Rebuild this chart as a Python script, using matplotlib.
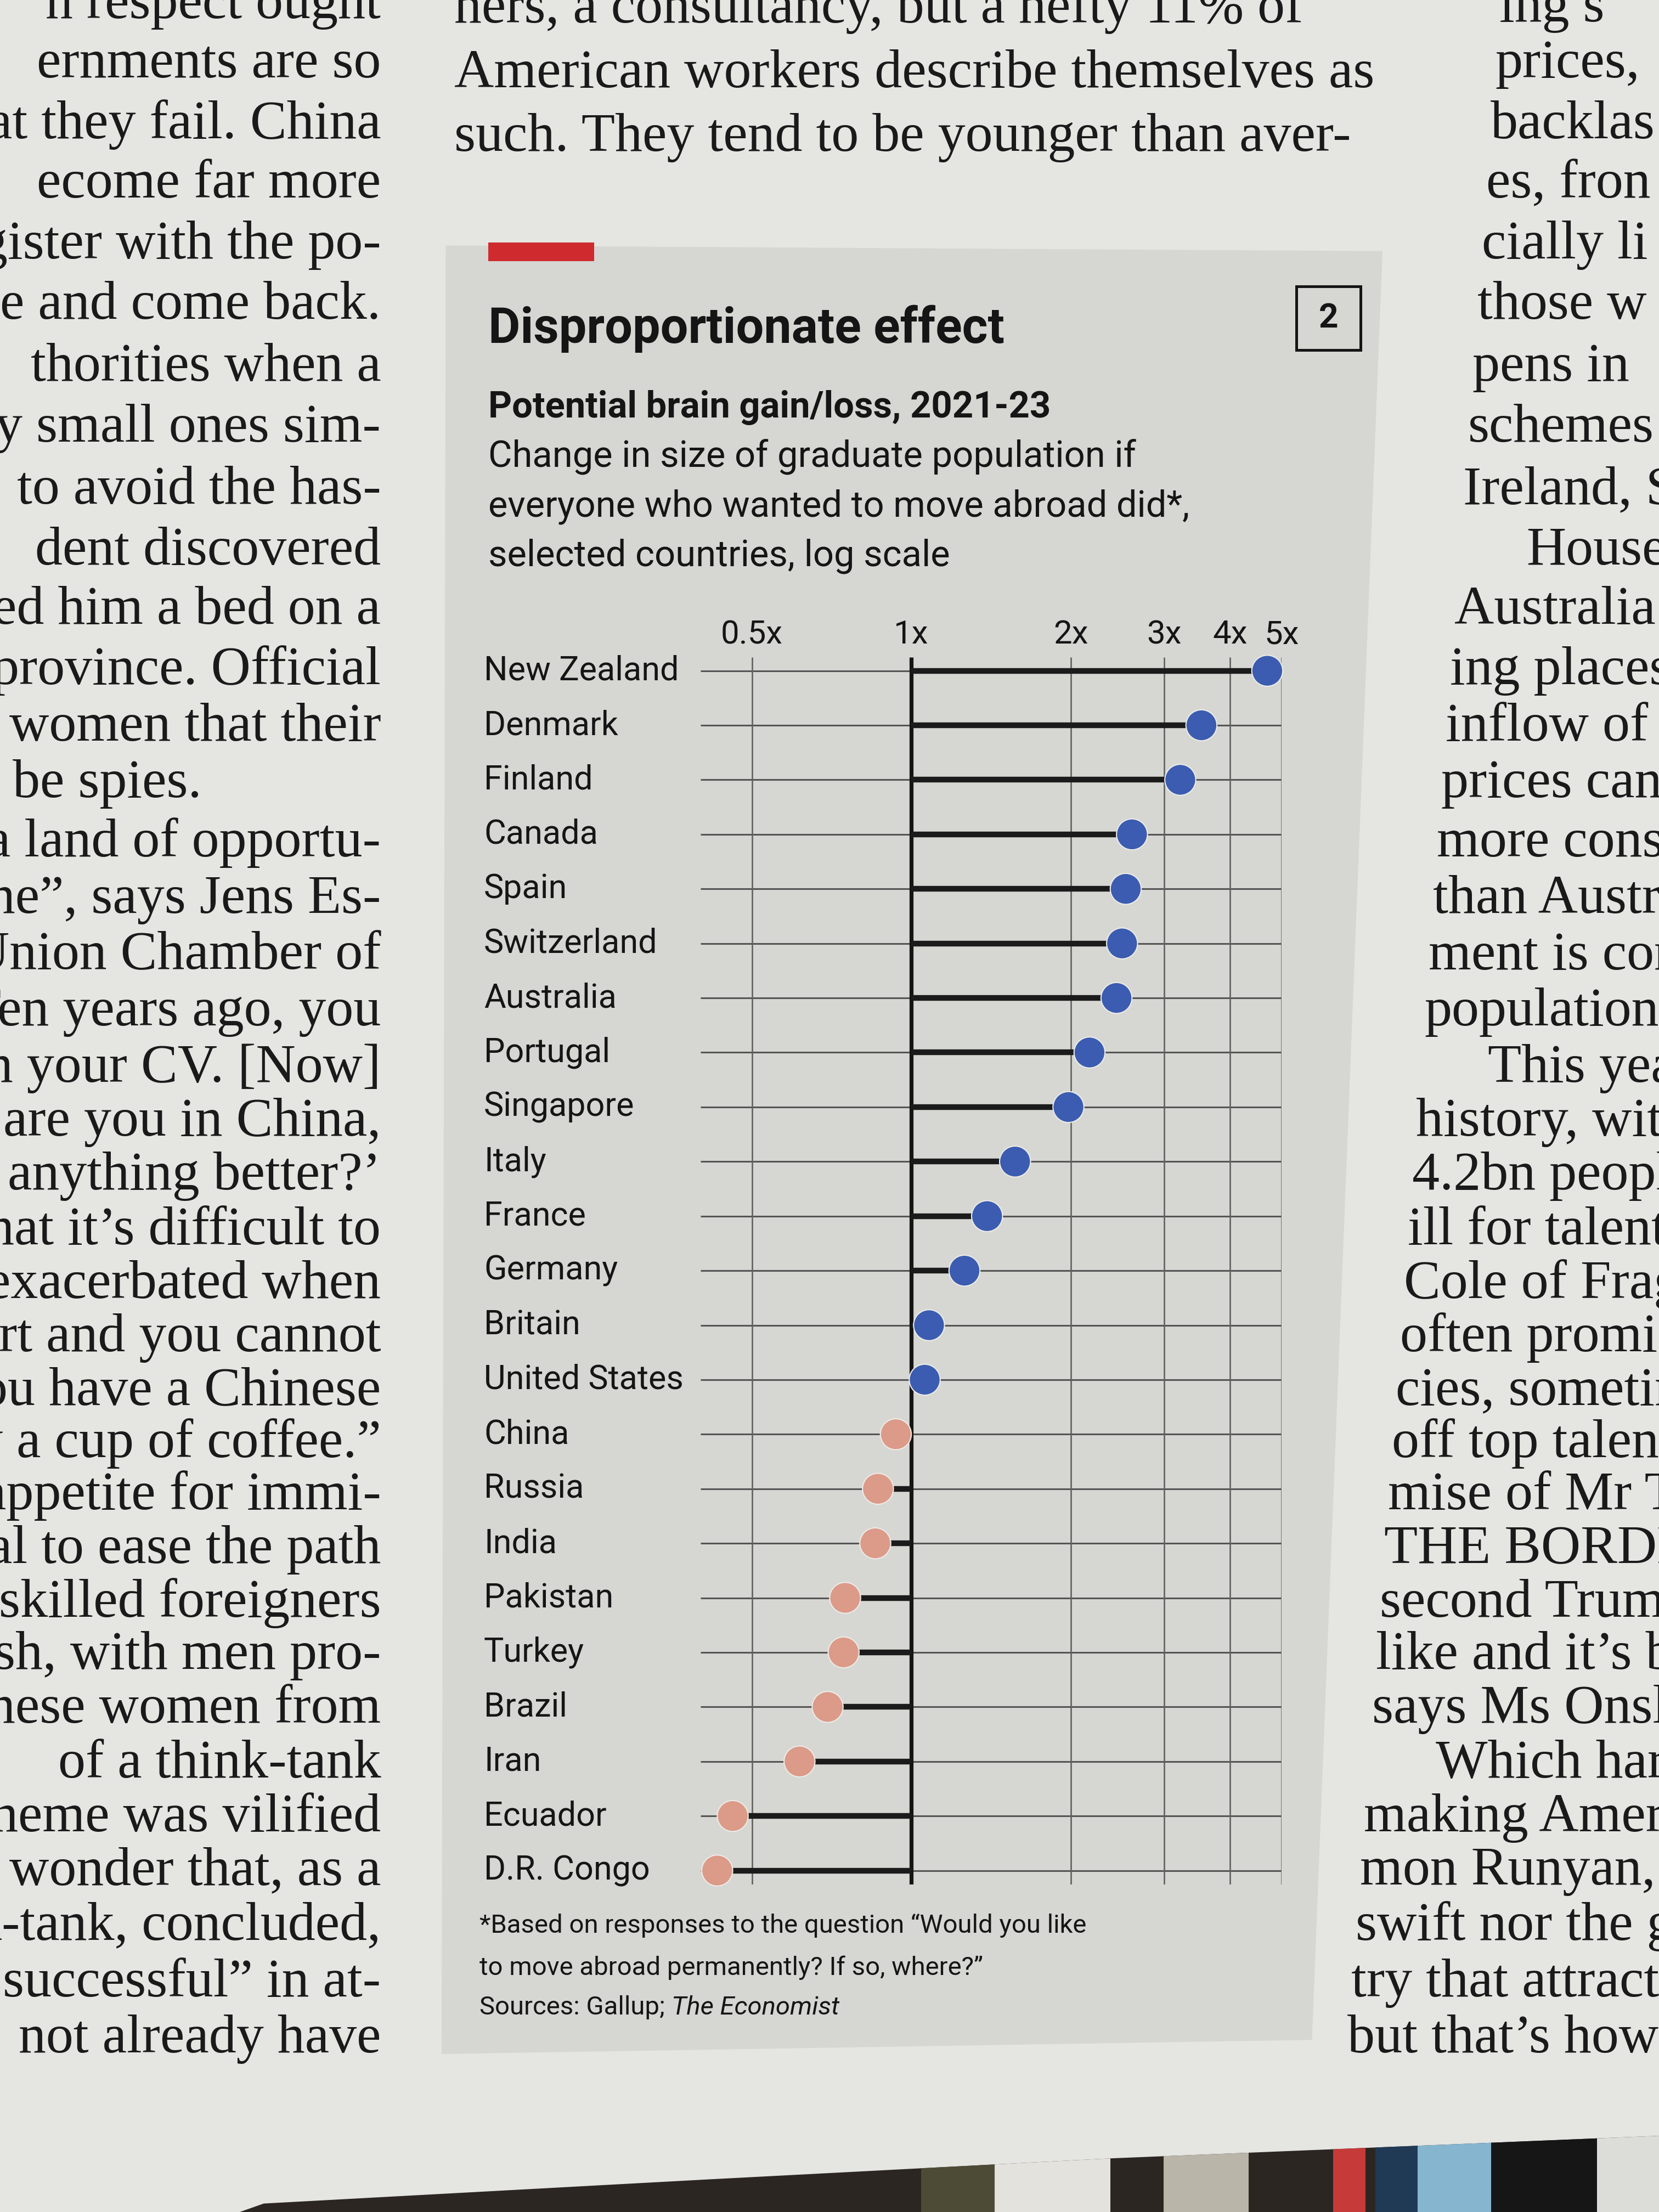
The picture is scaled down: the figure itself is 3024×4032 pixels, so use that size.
import matplotlib
matplotlib.use("Agg")
import matplotlib.pyplot as plt
from matplotlib import font_manager
from matplotlib.patches import Polygon, Rectangle
from matplotlib.ticker import NullLocator
import matplotlib.transforms as mtransforms

# ---------------- data ----------------
countries = ["New Zealand", "Denmark", "Finland", "Canada", "Spain", "Switzerland",
             "Australia", "Portugal", "Singapore", "Italy", "France", "Germany",
             "Britain", "United States", "China", "Russia", "India", "Pakistan",
             "Turkey", "Brazil", "Iran", "Ecuador", "D.R. Congo"]
values = [4.7, 3.53, 3.22, 2.61, 2.54, 2.50, 2.44, 2.17, 1.98, 1.57, 1.39, 1.26,
          1.08, 1.06, 0.935, 0.865, 0.855, 0.75, 0.745, 0.695, 0.615, 0.46, 0.43]
tick_values = [0.5, 1, 2, 3, 4, 5]
tick_labels = ["0.5x", "1x", "2x", "3x", "4x", "5x"]
x_range = [0.4, 5]

title = "Disproportionate effect"
subtitle = "Potential brain gain/loss, 2021-23"
description = ["Change in size of graduate population if",
               "everyone who wanted to move abroad did*,",
               "selected countries, log scale"]
footnote = ["*Based on responses to the question \u201cWould you like",
            "to move abroad permanently? If so, where?\u201d"]
source_prefix = "Sources: Gallup; "
source_italic = "The Economist"
chart_number = "2"

left_column = [
    (3, "n respect ought"), (45, "ernments are so"), (88, "at they fail. China"),
    (130, "ecome far more"), (173, "gister with the po-"), (216, "e and come back."),
    (260, "thorities when a"), (303, "y small ones sim-"), (347, "to avoid the has-"),
    (390, "dent discovered"), (432, "ed him a bed on a"), (475, "province. Official"),
    (515, "women that their"), (555, "be spies."), (597, "a land of opportu-"),
    (637, "one\u201d, says Jens Es-"), (677, "Union Chamber of"), (717, "Ten years ago, you"),
    (757, "on your CV. [Now]"), (795, "are you in China,"), (833, "anything better?\u2019"),
    (872, "that it\u2019s difficult to"), (910, "exacerbated when"), (948, "rt and you cannot"),
    (986, "you have a Chinese"), (1023, "uy a cup of coffee.\u201d"), (1060, "appetite for immi-"),
    (1098, "sal to ease the path"), (1136, "skilled foreigners"), (1173, "sh, with men pro-"),
    (1211, "nese women from"), (1250, "of a think-tank"), (1288, "heme was vilified"),
    (1326, "wonder that, as a"), (1365, "k-tank, concluded,"), (1405, "successful\u201d in at-"),
    (1445, "not already have")]
middle_column = [
    (6, "ners, a consultancy, but a hefty 11% of"),
    (52, "American workers describe themselves as"),
    (97, "such. They tend to be younger than aver-")]
right_column = [
    (5, "ing s", 0), (45, "prices,", 0), (88, "backlas", 0), (130, "es, fron", 0),
    (173, "cially li", 0), (216, "those w", 0), (260, "pens in", 0), (303, "schemes", 0),
    (347, "Ireland, S", 0), (390, "House", 1), (432, "Australia", 0), (475, "ing places", 0),
    (515, "inflow of", 0), (555, "prices can", 0), (597, "more cons", 0), (637, "than Austr", 0),
    (677, "ment is con", 0), (717, "population", 0), (757, "This yea", 1),
    (795, "history, with", 0), (833, "4.2bn people", 0), (872, "ill for talent", 0),
    (910, "Cole of Frag", 0), (948, "often promise", 0), (986, "cies, sometin", 0),
    (1023, "off top talent", 0), (1060, "mise of Mr Tr", 0), (1098, "THE BORDE", 0),
    (1136, "second Trump", 0), (1173, "like and it\u2019s b", 0), (1211, "says Ms Onslo", 0),
    (1250, "Which harc", 1), (1288, "making Americ", 0), (1326, "mon Runyan, th", 0),
    (1365, "swift nor the gr", 0), (1405, "try that attracts", 0), (1445, "but that\u2019s how th", 0)]

# ---------------- styling ----------------
W, H, DPI = 3024, 4032, 100
RW, RH = 1176, 1568          # layout grid (reference scaled)

def fx(x):
    return x / RW

def fy(y):
    return 1 - y / RH

names = {f.name for f in font_manager.fontManager.ttflist}
if "Liberation Sans Narrow" in names:
    SANS, K = "Liberation Sans Narrow", 1.0
else:
    SANS, K = "Roboto", 0.83
SANS_L = [SANS, "DejaVu Sans"]
SERIF_L = ["Liberation Serif", "DejaVu Serif"]

PAGE = "#e5e5e2"
PANEL = "#d6d6d2"
BLUE = "#3b5cb0"
PINK = "#dc9a88"
INK = "#151515"

fig = plt.figure(figsize=(W / DPI, H / DPI), dpi=DPI)
fig.patch.set_facecolor(PAGE)

# ---- surrounding article text ----
SERIF_SIZE = 72
for y, s in left_column:
    xr = 143 if s == "be spies." else 270
    fig.text(fx(xr), fy(y + 10), s, ha="right", va="baseline", family=SERIF_L,
             fontsize=SERIF_SIZE, color="#1a1a1a")
for y, s in middle_column:
    fig.text(fx(322), fy(y + 10), s, ha="left", va="baseline", family=SERIF_L,
             fontsize=SERIF_SIZE, color="#1a1a1a")
for y, s, ind in right_column:
    xl = 1060 - (y - 45) * (105 / 1400) + 48 * ind
    fig.text(fx(xl), fy(y + 10), s, ha="left", va="baseline", family=SERIF_L,
             fontsize=SERIF_SIZE, color="#1a1a1a")

# ---- chart panel ----
panel = Polygon([(fx(316), fy(174)), (fx(980), fy(178)), (fx(930), fy(1446)), (fx(313), fy(1456))],
                closed=True, transform=fig.transFigure, facecolor=PANEL, edgecolor="none", zorder=0)
fig.patches.append(panel)
fig.patches.append(Rectangle((fx(346), fy(185)), (421 - 346) / RW, 13 / RH,
                             transform=fig.transFigure, facecolor="#cf2a2e", edgecolor="none", zorder=1))

fig.text(fx(346), fy(243), title, ha="left", va="baseline", family=SANS_L,
         fontsize=78 * K, fontweight="bold", color=INK)
fig.text(fx(346), fy(296), subtitle, ha="left", va="baseline", family=SANS_L,
         fontsize=58 * K, fontweight="bold", color=INK)
for yb, line in zip([331, 366, 401], description):
    fig.text(fx(346), fy(yb), line, ha="left", va="baseline", family=SANS_L,
             fontsize=58 * K, color=INK)

# chart number box
fig.patches.append(Rectangle((fx(919), fy(248)), (964.5 - 919) / RW, (248 - 203) / RH,
                             transform=fig.transFigure, facecolor="none", edgecolor=INK,
                             linewidth=3.6, zorder=2))
fig.text(fx(941.7), fy(225.5), chart_number, ha="center", va="center", family=SANS_L,
         fontsize=54 * K, fontweight="bold", color=INK)

# ---- axes ----
ax_left, ax_right, ax_top, ax_bottom = 496.6, 908.4, 465.8, 1336.0
ax = fig.add_axes([fx(ax_left), fy(ax_bottom), (ax_right - ax_left) / RW, (ax_bottom - ax_top) / RH])
ax.set_zorder(10)
ax.patch.set_visible(False)
ax.set_xscale("log")
ax.set_xlim(*x_range)
n = len(countries)
rows = list(range(n))
ax.set_ylim(n - 1 + 0.26, -0.25)
for sp in ax.spines.values():
    sp.set_visible(False)

ax.hlines(rows, x_range[0], x_range[1], colors="#555555", linewidth=2.2, zorder=1)
ax.vlines([t for t in tick_values if t != 1], -0.25, n - 1 + 0.26, colors="#606060",
          linewidth=1.9, zorder=1)
ax.vlines([1], -0.25, n - 1 + 0.26, colors=INK, linewidth=5.2, zorder=2)
ax.hlines(rows, 1, values, colors="#1b1b1b", linewidth=7.5, zorder=3)
colors = [BLUE if v >= 1 else PINK for v in values]
ax.scatter(values, rows, s=1650, c=colors, edgecolors="#ecece8", linewidths=1.5,
           zorder=4, clip_on=False)

ax.set_xticks(tick_values)
ax.set_xticklabels(tick_labels)
ax.xaxis.set_minor_locator(NullLocator())
ax.xaxis.tick_top()
ax.tick_params(axis="x", length=0, pad=9, labelsize=52 * K, labelcolor=INK)
for lab in ax.get_xticklabels():
    lab.set_family(SANS_L)
ax.set_yticks([])

blend = mtransforms.blended_transform_factory(fig.transFigure, ax.transData)
for i, name in enumerate(countries):
    ax.text(fx(343), i, name, transform=blend, ha="left", va="center", family=SANS_L,
            fontsize=53 * K, color=INK, clip_on=False)

# ---- footnote & source ----
for yb, line in zip([1370, 1400], footnote):
    fig.text(fx(340), fy(yb), line, ha="left", va="baseline", family=SANS_L,
             fontsize=41 * K, color=INK)
src = fig.text(fx(340), fy(1428), source_prefix, ha="left", va="baseline", family=SANS_L,
               fontsize=41 * K, color=INK)
ax.annotate(source_italic, xy=(1, 0), xycoords=src, ha="left", va="bottom",
            family=SANS_L, fontsize=41 * K, style="italic", color=INK, annotation_clip=False)

# ---- bottom edge of page / books ----
edge = [(170, 1568), (187, 1562), (500, 1545), (787, 1530), (1176, 1514), (1176, 1568)]
books = Polygon([(fx(x), fy(y)) for x, y in edge], closed=True, transform=fig.transFigure,
                facecolor="#2b2622", edgecolor="none", zorder=0.5)
fig.patches.append(books)
spines = [(653, 705, "#4d4a36"), (705, 787, "#e4e2dc"), (825, 885, "#b9b5a8"),
          (945, 968, "#c63a3a"), (975, 1005, "#203a55"), (1005, 1057, "#86b6cf"),
          (1057, 1132, "#161616"), (1132, 1176, "#dcdcd8")]
for x0, x1, c in spines:
    r = Rectangle((fx(x0), 0), (x1 - x0) / RW, fy(1500), transform=fig.transFigure,
                  facecolor=c, edgecolor="none", zorder=0.6)
    r.set_clip_path(books)
    fig.patches.append(r)

fig.savefig("out.png", dpi=DPI, facecolor=fig.get_facecolor())
